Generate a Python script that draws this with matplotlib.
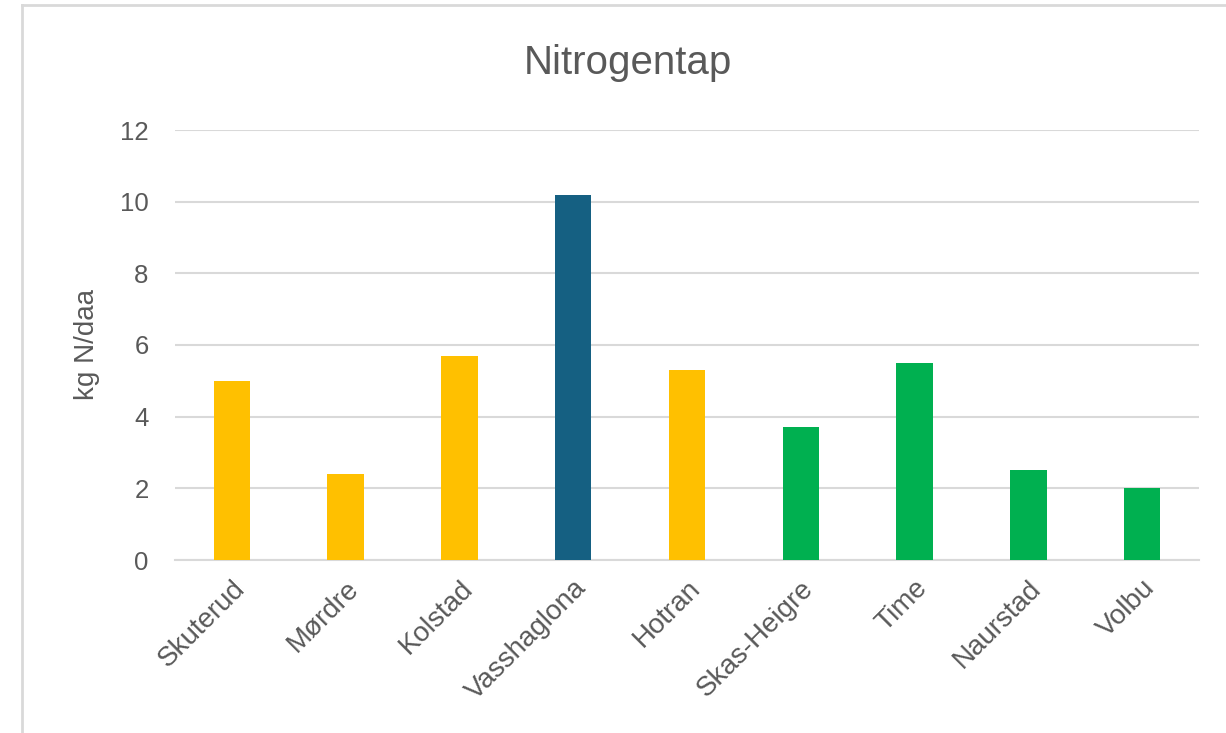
import matplotlib.pyplot as plt
from matplotlib.lines import Line2D

sites = ['Skuterud', 'Mørdre', 'Kolstad', 'Vasshaglona', 'Hotran',
         'Skas-Heigre', 'Time', 'Naurstad', 'Volbu']
nitrogen = [5.0, 2.4, 5.7, 10.2, 5.3, 3.7, 5.5, 2.5, 2.0]
colours = ['#FFC000', '#FFC000', '#FFC000', '#156082', '#FFC000',
           '#00B050', '#00B050', '#00B050', '#00B050']
yticks = [0, 2, 4, 6, 8, 10, 12]

plt.rcParams['font.family'] = ['Liberation Sans', 'DejaVu Sans']
text_col = '#595959'

fig = plt.figure(figsize=(12.26, 7.33), dpi=100)
ax = fig.add_axes([175/1226, 1 - 560/733, (1199 - 175)/1226, (560 - 130)/733])

# frame around the chart (left and top edge visible)
fig.add_artist(Line2D([22/1226, 22/1226], [0, 1 - 5/733], transform=fig.transFigure,
                      color='#D9D9D9', lw=2))
fig.add_artist(Line2D([22/1226, 1], [1 - 5/733, 1 - 5/733], transform=fig.transFigure,
                      color='#D9D9D9', lw=2))

x = range(len(sites))
ax.bar(x, nitrogen, width=0.32, color=colours, zorder=3)

ax.set_xlim(-0.5, len(sites) - 0.5)
ax.set_ylim(0, 12)
ax.set_yticks(yticks)
ax.set_yticklabels([str(t) for t in yticks], fontsize=18.5, color=text_col)
ax.set_xticks(list(x))
ax.set_xticklabels(sites, rotation=45, ha='right', va='top', rotation_mode='anchor',
                   fontsize=20, color=text_col)
ax.tick_params(axis='both', length=0)
ax.tick_params(axis='y', pad=19)
ax.tick_params(axis='x', pad=11)

ax.grid(axis='y', color='#D9D9D9', lw=1.5, zorder=0)
for s in ['top', 'right', 'left']:
    ax.spines[s].set_visible(False)
ax.spines['bottom'].set_color('#D9D9D9')
ax.spines['bottom'].set_linewidth(1.5)

ax.set_ylabel('kg N/daa', fontsize=20, color=text_col, labelpad=14)
fig.text(628/1226, 1 - 63/733, 'Nitrogentap', ha='center', va='center',
         fontsize=29, color=text_col)

fig.savefig('out.png', dpi=100)
